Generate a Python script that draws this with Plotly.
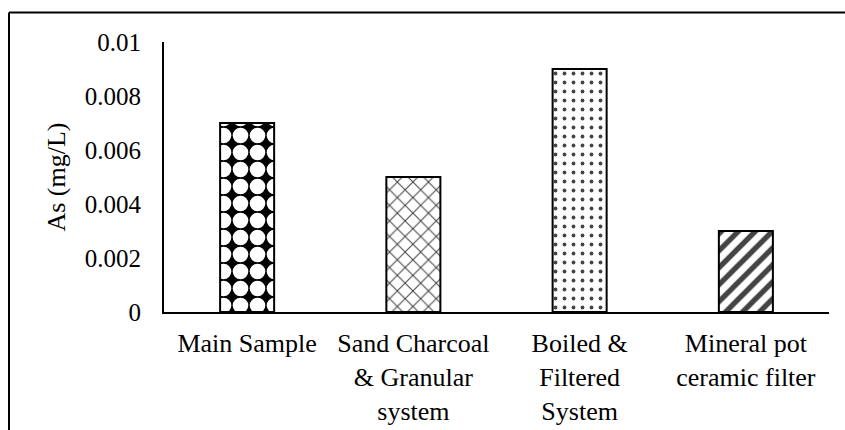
import plotly.graph_objects as go

categories = ["Main Sample", "Sand Charcoal<br>& Granular<br>system",
              "Boiled &<br>Filtered<br>System", "Mineral pot<br>ceramic filter"]
values = [0.007, 0.005, 0.009, 0.003]
y_ticks = [0, 0.002, 0.004, 0.006, 0.008, 0.01]
y_tick_text = ["0", "0.002", "0.004", "0.006", "0.008", "0.01"]

FONT = "Liberation Serif, Times New Roman, serif"

pattern_shapes = [".", "x", ".", "/"]
fill_colors = ["black", "white", "white", "white"]
pattern_fg = ["white", "black", "black", "black"]
pattern_size = [17, 11, 9, 12]
pattern_solid = [0.66, 0.18, 0.14, 0.45]

fig = go.Figure()
fig.add_trace(go.Bar(
    x=categories, y=values, width=0.325,
    marker=dict(
        color=fill_colors,
        line=dict(color="black", width=2),
        pattern=dict(shape=pattern_shapes, fgcolor=pattern_fg,
                     size=pattern_size, solidity=pattern_solid, fillmode="overlay",
                     fgopacity=1),
    ),
    showlegend=False,
))

L, R, T, B = 164, 16, 42, 118
W, H = 845, 430
pw, ph = W - L - R, H - T - B

def px2paper_x(px):
    return (px - L) / pw

def px2paper_y(py):
    return (H - B - py) / ph

fig.update_layout(
    width=W, height=H,
    margin=dict(l=L, r=R, t=T, b=B, autoexpand=False),
    paper_bgcolor="white", plot_bgcolor="white",
    font=dict(family=FONT, color="black", size=26),
    xaxis=dict(
        range=[-0.5, 3.5], showline=True, linecolor="black", linewidth=2,
        ticks="", showgrid=False, zeroline=False, automargin=False,
        tickfont=dict(family=FONT, size=26, color="black"),
        ticklabelstandoff=7,
    ),
    yaxis=dict(
        range=[0, 0.01], tickvals=y_ticks, ticktext=y_tick_text,
        showline=True, linecolor="black", linewidth=2,
        ticks="", showgrid=False, zeroline=False, automargin=False,
        tickfont=dict(family=FONT, size=25, color="black"),
        ticklabelstandoff=16,
        title=dict(text="As (mg/L)", font=dict(family=FONT, size=26, color="black"), standoff=12),
    ),
    shapes=[
        dict(type="line", xref="paper", yref="paper",
             x0=px2paper_x(9), x1=px2paper_x(900), y0=px2paper_y(12.5), y1=px2paper_y(12.5),
             line=dict(color="black", width=2)),
        dict(type="line", xref="paper", yref="paper",
             x0=px2paper_x(9), x1=px2paper_x(9), y0=px2paper_y(12.5), y1=px2paper_y(500),
             line=dict(color="black", width=2)),
    ],
)

fig.write_html("out.html")
